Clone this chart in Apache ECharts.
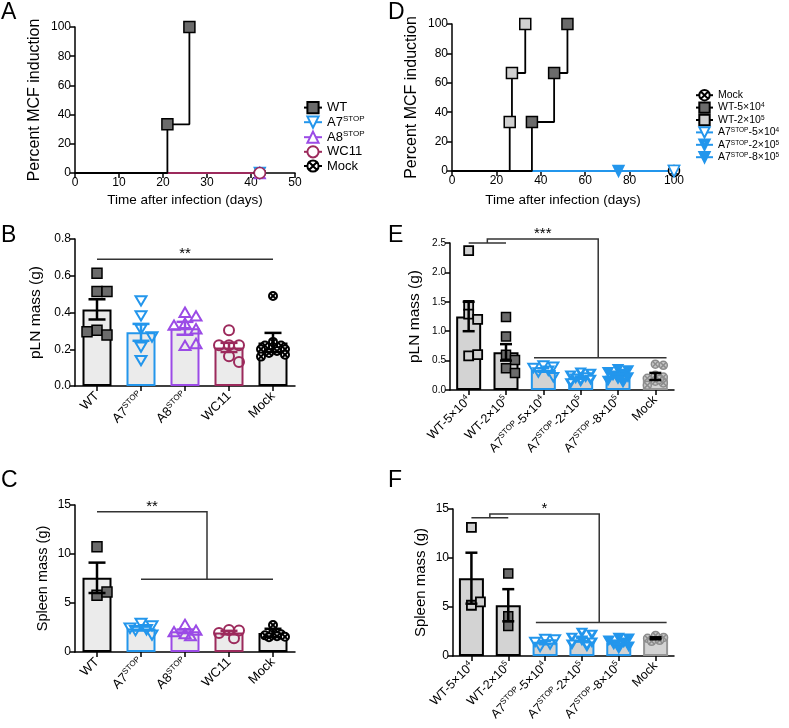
<!DOCTYPE html>
<html><head><meta charset="utf-8">
<script src="https://cdn.jsdelivr.net/npm/echarts@6/dist/echarts.min.js"></script>
<style>html,body{margin:0;padding:0;background:#fff}#c{width:789px;height:728px}</style>
</head><body><div id="c"></div>
<script>
// ================= DATA =================
// Panel A: percent MCF induction vs time (days)
const A_WT   = [[0,0],[21,33.33],[26,100]];
const A_A7   = [[0,0],[42,0]];
const A_A8   = [[0,0],[42,0]];
const A_WC11 = [[0,0],[42,0]];
const A_Mock = [[0,0],[42,0]];
// Panel D
const D_WT5  = [[0,0],[36,33.33],[46,66.67],[52,100]];
const D_WT2  = [[0,0],[26,33.33],[27,66.67],[33,100]];
const D_A7_5 = [[0,0],[100,0]];
const D_A7_2 = [[0,0],[100,0]];
const D_A7_8 = [[0,0],[75,0]];
const D_Mock = [[0,0],[100,0]];
// Panel B: pLN mass (g)
const B_cats = ['WT','A7^STOP','A8^STOP','WC11','Mock'];
const B_mean = [0.417,0.292,0.314,0.210,0.237];
const B_sem  = [0.055,0.046,0.035,0.025,0.052];
const B_ptsWT   = [0.614,0.514,0.514,0.304,0.277,0.295];
const B_ptsA7   = [0.465,0.383,0.310,0.268,0.213,0.140];
const B_ptsA8   = [0.400,0.380,0.340,0.330,0.310,0.220,0.230];
const B_ptsWC11 = [0.304,0.222,0.222,0.222,0.162,0.131];
const B_ptsMock = [0.490,0.240,0.220,0.220,0.210,0.200,0.200,0.190,0.180,0.170,0.160];
// Panel C: spleen mass (g)
const C_cats = ['WT','A7^STOP','A8^STOP','WC11','Mock'];
const C_mean = [7.57,2.39,2.11,1.98,1.95];
const C_sem  = [1.55,0.20,0.18,0.18,0.42];
const C_ptsWT   = [10.74,5.80,6.13];
const C_ptsA7   = [2.95,2.70,2.45,2.30,2.20,1.75];
const C_ptsA8   = [2.80,2.20,2.05,1.85,1.65];
const C_ptsWC11 = [2.25,2.20,1.95,1.40];
const C_ptsMock = [2.75,1.95,1.80,1.70,1.60,1.55,1.50];
// Panel E: pLN mass (g)
const E_cats = ['WT-5×10^4','WT-2×10^5','A7^STOP-5×10^4','A7^STOP-2×10^5','A7^STOP-8×10^5','Mock'];
const E_mean = [1.25,0.64,0.34,0.21,0.245,0.23];
const E_sem  = [0.25,0.14,0.03,0.02,0.025,0.06];
const E_ptsWT5  = [2.37,1.44,1.29,1.20,0.58,0.60];
const E_ptsWT2  = [1.24,0.91,0.60,0.51,0.37,0.29];
const E_ptsA7_5 = [0.42,0.40,0.38,0.33,0.30,0.22];
const E_ptsA7_2 = [0.30,0.28,0.25,0.22,0.20,0.18,0.15,0.12];
const E_ptsA7_8 = [0.36,0.34,0.31,0.28,0.25,0.22,0.19,0.16,0.13];
const E_ptsMock = [0.44,0.42,0.25,0.22,0.20,0.15,0.12,0.08,0.18];
// Panel F: spleen mass (g)
const F_cats = ['WT-5×10^4','WT-2×10^5','A7^STOP-5×10^4','A7^STOP-2×10^5','A7^STOP-8×10^5','Mock'];
const F_mean = [7.94,5.18,1.37,1.67,1.37,1.81];
const F_sem  = [2.60,1.64,0.17,0.20,0.15,0.10];
const F_ptsWT5  = [13.13,5.18,5.52];
const F_ptsWT2  = [8.42,4.06,3.07];
const F_ptsA7_5 = [1.75,1.70,1.45,1.20,0.95];
const F_ptsA7_2 = [2.40,2.20,1.90,1.60,1.40,1.20,1.00];
const F_ptsA7_8 = [1.90,1.80,1.60,1.40,1.20,1.00,0.80];
const F_ptsMock = [2.10,1.90,1.80,1.60,1.50];
// Significance annotations: polylines in [categoryIndex, value]
const B_brk = [[[0,0.69],[4,0.69]]];
const C_brk = [[[0,14.3],[2.5,14.3],[2.5,7.43]],[[1,7.43],[4,7.43]]];
const E_brk = [[[0,2.5],[1,2.5]],[[0.5,2.5],[0.5,2.57],[3.47,2.57],[3.47,0.55]],[[1.75,0.55],[5.3,0.55]]];
const F_brk = [[[0,14.1],[1,14.1]],[[0.5,14.1],[0.5,14.5],[3.47,14.5],[3.47,3.42]],[[1.75,3.42],[5.3,3.42]]];
const B_star = ['**',[2,0.69]], C_star = ['**',[1.25,14.3]], E_star = ['***',[1.985,2.57]], F_star = ['*',[1.985,14.5]];

// ================= STYLE =================
const FONT = 'Liberation Sans, Arial, Helvetica, sans-serif';
const BLUE='#2396ec', PURPLE='#9b4be6', MAROON='#9c2a5c', DGRAY='#6b6b6b', LGRAY='#d0d0d0';
const FILL1='#ebebeb', FILL2='#d3d3d3', MGRAY='#969696';
const CIRCX='path://M20,10A10,10,0,1,1,0,10A10,10,0,1,1,20,10Z M2.93,2.93L17.07,17.07 M17.07,2.93L2.93,17.07';
const THALF='path://M0,0L20,0L10,17Z M6,2.5L10,8.5L14,2.5Z';

function richFmt(s){
  const parts = s.split(/\^([A-Za-z0-9]+)/);
  return parts.map((p,i)=> p==='' ? '' : (i%2 ? '{sup|'+p+'}' : '{b|'+p+'}')).join('');
}
function rich(fs, sfs, pad){
  return {b:{fontSize:fs,fontFamily:FONT,color:'#000',verticalAlign:'bottom'},
          sup:{fontSize:sfs,fontFamily:FONT,color:'#000',verticalAlign:'top',padding:[0,0,pad,0]}};
}

function makeSym(k,x,y,s,fill,stroke,lw){
  const h=s/2, st={fill:fill,stroke:stroke,lineWidth:lw};
  if(k==='sq') return {type:'rect',shape:{x:x-h,y:y-h,width:s,height:s},style:st};
  if(k==='tdown') return {type:'polygon',shape:{points:[[x-h,y-h*0.8],[x+h,y-h*0.8],[x,y+h*0.9]]},style:st};
  if(k==='tup') return {type:'polygon',shape:{points:[[x-h,y+h*0.8],[x+h,y+h*0.8],[x,y-h*0.9]]},style:st};
  if(k==='circ') return {type:'circle',shape:{cx:x,cy:y,r:h},style:st};
  if(k==='thalf') return {type:'group',children:[
    {type:'polygon',shape:{points:[[x-h,y-h*0.8],[x+h,y-h*0.8],[x,y+h*0.9]]},style:{fill:stroke,stroke:stroke,lineWidth:lw}},
    {type:'polygon',shape:{points:[[x-h*0.4,y-h*0.55],[x+h*0.4,y-h*0.55],[x,y+h*0.05]]},style:{fill:'#fff'}}]};
  if(k==='circx'){ const d=h*0.7; return {type:'group',children:[
    {type:'circle',shape:{cx:x,cy:y,r:h},style:st},
    {type:'line',shape:{x1:x-d,y1:y-d,x2:x+d,y2:y+d},style:{stroke:stroke,lineWidth:lw}},
    {type:'line',shape:{x1:x+d,y1:y-d,x2:x-d,y2:y+d},style:{stroke:stroke,lineWidth:lw}}]}; }
}
function swarm(ys,s,maxOff){
  const order=ys.map((y,i)=>i);
  const placed=[], off=new Array(ys.length), md=s*0.95, step=s*0.5;
  for(const i of order){
    let best=0,bestD=-1;
    for(let k=0;k<30;k++){
      const o=(k===0)?0:((k%2)?1:-1)*Math.ceil(k/2)*step;
      if(Math.abs(o)>maxOff) continue;
      let dmin=Infinity;
      for(const p of placed){ const d=Math.hypot(p.x-o,p.y-ys[i]); if(d<dmin) dmin=d; }
      if(dmin>=md){best=o;bestD=Infinity;break;}
      if(dmin>bestD){bestD=dmin;best=o;}
    }
    off[i]=best; placed.push({x:best,y:ys[i]});
  }
  return off;
}
function ptsRender(pts,syms,maxOff){
  return function(params,api){
    const i=api.value(0), vals=pts[i], sp=syms[i];
    const cx=api.coord([i,0])[0];
    const ys=vals.map(v=>api.coord([i,v])[1]);
    const off=swarm(ys,sp.s,maxOff);
    return {type:'group',children:vals.map((v,j)=>makeSym(sp.k,cx+off[j],ys[j],sp.s,sp.fill,sp.stroke,sp.lw))};
  };
}
function errRender(colors,capW,lw){
  return function(params,api){
    const i=api.value(0), m=api.value(1), s=api.value(2);
    const t=api.coord([i,m+s]), b=api.coord([i,m-s]), x=t[0];
    const st={stroke:colors[i],lineWidth:lw};
    return {type:'group',children:[
      {type:'line',shape:{x1:x,y1:t[1],x2:x,y2:b[1]},style:st},
      {type:'line',shape:{x1:x-capW/2,y1:t[1],x2:x+capW/2,y2:t[1]},style:st},
      {type:'line',shape:{x1:x-capW/2,y1:b[1],x2:x+capW/2,y2:b[1]},style:st}]};
  };
}
function brkRender(lines,star,fs){
  return function(params,api){
    const c=(i,v)=>{const p0=api.coord([0,v]),p1=api.coord([1,v]);return [p0[0]+i*(p1[0]-p0[0]),p0[1]];};
    const ch=lines.map(l=>({type:'polyline',shape:{points:l.map(p=>c(p[0],p[1]))},style:{stroke:'#333',lineWidth:1.5,fill:null}}));
    const sp=c(star[1][0],star[1][1]);
    ch.push({type:'text',x:sp[0],y:sp[1]+2,style:{text:star[0],fill:'#000',font:fs+'px '+FONT,align:'center',verticalAlign:'bottom',textAlign:'center',textVerticalAlign:'bottom'}});
    return {type:'group',children:ch};
  };
}

const axLine={show:true,onZero:false,lineStyle:{color:'#000',width:1.5}};
const axTick={show:true,length:5,lineStyle:{color:'#000',width:1.5}};
function valX(g,min,max,iv,name,gap){
  return {gridIndex:g,type:'value',min:min,max:max,interval:iv,axisLine:axLine,axisTick:axTick,splitLine:{show:false},
    axisLabel:{color:'#000',fontSize:12,fontFamily:FONT,margin:4},
    name:name,nameLocation:'middle',nameGap:gap,nameTextStyle:{color:'#000',fontSize:13.5,fontFamily:FONT}};
}
function valY(g,min,max,iv,name,gap,nfs,lfs,dec){
  return {gridIndex:g,type:'value',min:min,max:max,interval:iv,axisLine:axLine,axisTick:axTick,splitLine:{show:false},
    axisLabel:{color:'#000',fontSize:lfs,fontFamily:FONT,margin:4,formatter:v=>v.toFixed(dec)},
    name:name,nameLocation:'middle',nameGap:gap,nameRotate:90,nameTextStyle:{color:'#000',fontSize:nfs,fontFamily:FONT}};
}
function catX(g,cats,fs){
  return {gridIndex:g,type:'category',data:cats,axisLine:axLine,axisTick:Object.assign({alignWithLabel:true},axTick),
    axisLabel:{interval:0,rotate:45,margin:8,hideOverlap:false,formatter:richFmt,rich:rich(fs,8,6)},splitLine:{show:false}};
}
function barSet(g,mean,sem,pts,syms,fills,borders,errCols,bw,capW,lines,star,maxOff){
  return [
    {type:'bar',xAxisIndex:g,yAxisIndex:g,barWidth:bw,z:2,silent:true,
      data:mean.map((v,i)=>({value:v,itemStyle:{color:fills[i],borderColor:borders[i],borderWidth:2}}))},
    {type:'custom',xAxisIndex:g,yAxisIndex:g,z:3,silent:true,clip:false,data:pts.map((p,i)=>[i,mean[i]]),renderItem:ptsRender(pts,syms,maxOff)},
    {type:'custom',xAxisIndex:g,yAxisIndex:g,z:4,silent:true,clip:false,data:mean.map((m,i)=>[i,m,sem[i]]),renderItem:errRender(errCols,capW,2.5)},
    {type:'custom',xAxisIndex:g,yAxisIndex:g,z:4,silent:true,clip:false,data:[[0,0]],renderItem:brkRender(lines,star,15)}
  ];
}
function stepLine(name,g,data,sym,size,fill,stroke,lcol,rot){
  return {type:'line',name:name,xAxisIndex:g,yAxisIndex:g,step:'end',clip:false,showAllSymbol:true,
    symbol:sym,symbolSize:size,symbolRotate:rot||0,
    data:data.map((p,i)=>i===0?{value:p,symbol:'none'}:p),
    lineStyle:{color:lcol,width:1.8},itemStyle:{color:fill,borderColor:stroke,borderWidth:1.5}};
}

const symB=[{k:'sq',s:10,fill:DGRAY,stroke:'#000',lw:1.5},{k:'tdown',s:11,fill:'none',stroke:BLUE,lw:2},
  {k:'tup',s:11,fill:'none',stroke:PURPLE,lw:2},{k:'circ',s:10,fill:'none',stroke:MAROON,lw:2},{k:'circx',s:8,fill:'#fff',stroke:'#000',lw:2}];
const symE=[{k:'sq',s:9,fill:LGRAY,stroke:'#000',lw:1.8},{k:'sq',s:9,fill:DGRAY,stroke:'#000',lw:1.5},
  {k:'tdown',s:10,fill:'none',stroke:BLUE,lw:2},{k:'thalf',s:10,fill:BLUE,stroke:BLUE,lw:1.5},
  {k:'tdown',s:10,fill:BLUE,stroke:BLUE,lw:1.5},{k:'circx',s:8,fill:'#c8c8c8',stroke:'#8c8c8c',lw:1.5}];
const colBC=['#000',BLUE,PURPLE,MAROON,'#000'];
const colEFb=['#000','#000',BLUE,BLUE,BLUE,MGRAY];
const colEFe=['#000','#000',BLUE,BLUE,BLUE,'#000'];

const B_pts=[B_ptsWT,B_ptsA7,B_ptsA8,B_ptsWC11,B_ptsMock];
const C_pts=[C_ptsWT,C_ptsA7,C_ptsA8,C_ptsWC11,C_ptsMock];
const E_pts=[E_ptsWT5,E_ptsWT2,E_ptsA7_5,E_ptsA7_2,E_ptsA7_8,E_ptsMock];
const F_pts=[F_ptsWT5,F_ptsWT2,F_ptsA7_5,F_ptsA7_2,F_ptsA7_8,F_ptsMock];

const letters=[['A',1,1],['B',1,224],['C',1,469],['D',388,1],['E',388,224],['F',388,469]];

const option={
  animation:false,
  grid:[
    {left:75,top:27,width:220,height:146,outerBoundsMode:'none'},
    {left:452,top:24,width:222,height:147,outerBoundsMode:'none'},
    {left:75,top:239,width:220,height:147,outerBoundsMode:'none'},
    {left:75,top:505,width:220,height:147,outerBoundsMode:'none'},
    {left:450,top:243,width:224,height:147,outerBoundsMode:'none'},
    {left:453,top:509,width:221,height:147,outerBoundsMode:'none'}
  ],
  xAxis:[
    valX(0,0,50,10,'Time after infection (days)',20),
    valX(1,0,100,20,'Time after infection (days)',22),
    catX(2,B_cats,13), catX(3,C_cats,13), catX(4,E_cats,12.5), catX(5,F_cats,12.5)
  ],
  yAxis:[
    valY(0,0,100,20,'Percent MCF induction',32,16,12,0),
    valY(1,0,100,20,'Percent MCF induction',32,16,12,0),
    valY(2,0,0.8,0.2,'pLN mass (g)',31,15.5,12,1),
    valY(3,0,15,5,'Spleen mass (g)',25,14.5,12,0),
    valY(4,0,2.5,0.5,'pLN mass (g)',27,15.5,10,1),
    valY(5,0,15,5,'Spleen mass (g)',25,15,12,0)
  ],
  legend:[
    {left:298,top:96,orient:'vertical',itemWidth:18,itemHeight:14,itemGap:1,selectedMode:false,
      data:['WT','A7^STOP','A8^STOP','WC11','Mock'],formatter:richFmt,textStyle:{rich:rich(13,8,6)}},
    {left:690,top:84,orient:'vertical',itemWidth:17,itemHeight:13,itemGap:0,selectedMode:false,
      data:['D:Mock','D:WT-5×10^4','D:WT-2×10^5','D:A7^STOP-5×10^4','D:A7^STOP-2×10^5','D:A7^STOP-8×10^5'],
      formatter:n=>richFmt(n.replace(/^D:/,'')),textStyle:{rich:rich(10.5,6.5,4)}}
  ],
  graphic:letters.map(l=>({type:'text',left:l[1],top:l[2],style:{text:l[0],font:'23px '+FONT,fill:'#000'}})),
  series:[
    stepLine('Mock',0,A_Mock,CIRCX,11,'#fff','#000','#000'),
    stepLine('A7^STOP',0,A_A7,'triangle',11,'#fff',BLUE,BLUE,180),
    stepLine('A8^STOP',0,A_A8,'triangle',11,'#fff',PURPLE,PURPLE),
    stepLine('WC11',0,A_WC11,'circle',11,'#fff',MAROON,MAROON),
    stepLine('WT',0,A_WT,'rect',11,DGRAY,'#000','#000'),
    stepLine('D:Mock',1,D_Mock,CIRCX,11,'#fff','#000','#000'),
    stepLine('D:A7^STOP-8×10^5',1,D_A7_8,'triangle',11,BLUE,BLUE,BLUE,180),
    stepLine('D:A7^STOP-2×10^5',1,D_A7_2,THALF,11,BLUE,BLUE,BLUE),
    stepLine('D:A7^STOP-5×10^4',1,D_A7_5,'triangle',11,'#fff',BLUE,BLUE,180),
    stepLine('D:WT-5×10^4',1,D_WT5,'rect',11,DGRAY,'#000','#000'),
    stepLine('D:WT-2×10^5',1,D_WT2,'rect',11,LGRAY,'#000','#000'),
    ...barSet(2,B_mean,B_sem,B_pts,symB,B_mean.map(()=>FILL1),colBC,colBC,29,17,B_brk,B_star,13),
    ...barSet(3,C_mean,C_sem,C_pts,symB,C_mean.map(()=>FILL1),colBC,colBC,29,17,C_brk,C_star,13),
    ...barSet(4,E_mean,E_sem,E_pts,symE,E_mean.map(()=>FILL2),colEFb,colEFe,25,12,E_brk,E_star,11),
    ...barSet(5,F_mean,F_sem,F_pts,symE,F_mean.map(()=>FILL2),colEFb,colEFe,25,12,F_brk,F_star,11)
  ]
};
const chart=echarts.init(document.getElementById('c'),null,{renderer:'canvas'});
chart.setOption(option);
</script></body></html>
